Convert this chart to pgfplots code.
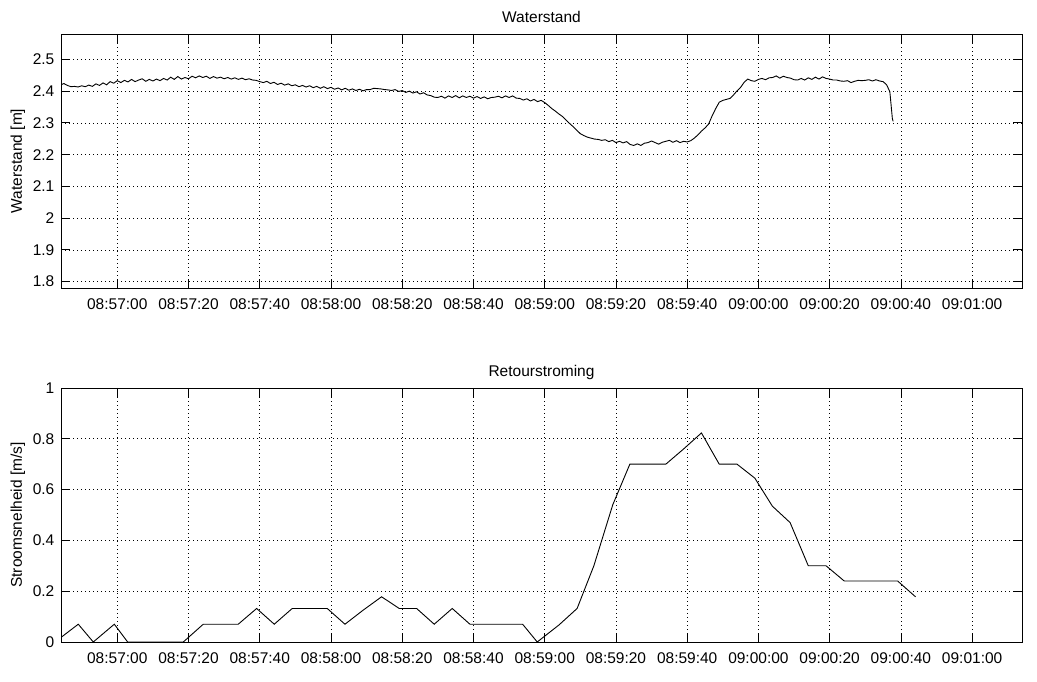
\documentclass[border=0pt]{standalone}
\usepackage{fontspec}
\setmainfont{Liberation Sans}
\usepackage{pgfplots}
\pgfplotsset{compat=1.18}

% MATLAB-like look shared by both panels
\pgfplotsset{
  matlab/.style={
    scale only axis,
    width=961pt, height=254pt,
    anchor=south west,
    xmin=-15.8, xmax=254,
    xtick={0,20,40,60,80,100,120,140,160,180,200,220,240},
    xticklabels={08:57:00,08:57:20,08:57:40,08:58:00,08:58:20,08:58:40,08:59:00,08:59:20,08:59:40,09:00:00,09:00:20,09:00:40,09:01:00},
    xtick pos=both, ytick pos=both,
    tick align=inside,
    major tick length=9pt,
    grid=major,
    major grid style={black, line width=0.7pt, dash pattern=on 0.7pt off 3.3pt},
    axis line style={black, line width=0.8pt},
    every tick/.style={black, line width=0.8pt},
    /pgf/number format/assume math mode=true,
    xticklabel style={inner sep=0pt, yshift=-10pt},
    yticklabel style={inner sep=0pt, xshift=-6.5pt},
    title style={at={(0.5,1)}, anchor=base, yshift=5pt, inner sep=0pt},
    ylabel style={at={(axis description cs:-0.0406,0.5)}, anchor=base, inner sep=0pt},
  }
}

\begin{document}
\begin{tikzpicture}[font=\fontsize{15.5}{18}\selectfont]
\path[use as bounding box] (0,0) rectangle (1037pt,682pt);

% top panel
\begin{axis}[matlab, at={(61pt,394pt)},
  ymin=1.78, ymax=2.58,
  ytick={1.8,1.9,2,2.1,2.2,2.3,2.4,2.5},
  title={Waterstand}, ylabel={Waterstand [m]}]
\addplot[black, line width=0.9pt] coordinates {
(-15.8,2.420) (-15,2.424) (-14,2.418) (-13,2.414) (-12,2.415) (-11,2.413) (-10,2.417) (-9,2.414)
(-8,2.419) (-7,2.415) (-6,2.423) (-5,2.418) (-4,2.426) (-3,2.420) (-2,2.430) (-1,2.425)
(0,2.433) (1,2.427) (2,2.434) (3,2.429) (4,2.437) (5,2.430) (6,2.435) (7,2.439)
(8,2.431) (9,2.437) (10,2.432) (11,2.438) (12,2.433) (13,2.440) (14,2.435) (15,2.444)
(16,2.437) (17,2.446) (18,2.438) (19,2.443) (20,2.439) (21,2.447) (22,2.442) (23,2.448)
(24,2.443) (25,2.447) (26,2.440) (27,2.446) (28,2.441) (29,2.444) (30,2.439) (31,2.443)
(32,2.438) (33,2.442) (34,2.437) (35,2.441) (36,2.436) (37,2.439) (38,2.435) (39,2.434)
(40,2.430) (41,2.427) (42,2.431) (43,2.424) (44,2.428) (45,2.421) (46,2.425) (47,2.419)
(48,2.423) (49,2.417) (50,2.420) (51,2.414) (52,2.418) (53,2.413) (54,2.417) (55,2.411)
(56,2.415) (57,2.409) (58,2.414) (59,2.408) (60,2.412) (61,2.406) (62,2.410) (63,2.404)
(64,2.409) (65,2.403) (66,2.407) (67,2.402) (68,2.406) (69,2.401) (70,2.405) (71,2.405)
(72,2.409) (73,2.408) (74,2.407) (75,2.405) (76,2.404) (77,2.402) (78,2.405) (79,2.399)
(80,2.402) (81,2.396) (82,2.400) (83,2.394) (84,2.398) (85,2.391) (86,2.395) (87,2.388)
(88,2.386) (89,2.381) (90,2.380) (91,2.384) (92,2.378) (93,2.385) (94,2.380) (95,2.386)
(96,2.379) (97,2.385) (98,2.380) (99,2.384) (100,2.378) (101,2.383) (102,2.377) (103,2.382)
(104,2.376) (105,2.380) (106,2.381) (107,2.384) (108,2.379) (109,2.385) (110,2.380) (111,2.385)
(112,2.378) (113,2.377) (114,2.372) (115,2.376) (116,2.369) (117,2.374) (118,2.367) (119,2.371)
(120,2.364) (121,2.355) (122,2.345) (123,2.337) (124,2.328) (125,2.320) (126,2.309) (127,2.298)
(128,2.288) (129,2.277) (130,2.266) (131,2.260) (132,2.255) (133,2.252) (134,2.249) (135,2.248)
(136,2.245) (137,2.247) (138,2.241) (139,2.245) (140,2.238) (141,2.242) (142,2.237) (143,2.241)
(144,2.232) (145,2.229) (146,2.234) (147,2.229) (148,2.236) (149,2.238) (150,2.243) (151,2.238)
(152,2.233) (153,2.239) (154,2.242) (155,2.245) (156,2.239) (157,2.244) (158,2.238) (159,2.242)
(160,2.240) (161,2.244) (162,2.252) (163,2.262) (164,2.274) (165,2.284) (166,2.296) (167,2.322)
(168,2.345) (169,2.365) (170,2.371) (171,2.374) (172,2.377) (173,2.388) (174,2.401) (175,2.412)
(176,2.428) (177,2.438) (178,2.433) (179,2.431) (180,2.437) (181,2.440) (182,2.436) (183,2.442)
(184,2.443) (185,2.448) (186,2.441) (187,2.447) (188,2.443) (189,2.441) (190,2.436) (191,2.435)
(192,2.440) (193,2.435) (194,2.442) (195,2.437) (196,2.444) (197,2.438) (198,2.445) (199,2.440)
(200,2.438) (201,2.435) (202,2.435) (203,2.432) (204,2.431) (205,2.433) (206,2.427) (207,2.431)
(208,2.434) (209,2.433) (210,2.434) (211,2.436) (212,2.432) (213,2.436) (214,2.432) (215,2.430)
(216,2.420) (216.9,2.398) (217.6,2.314) (217.8,2.305)
};
\end{axis}

% bottom panel
\begin{axis}[matlab, at={(61pt,40pt)},
  ymin=0, ymax=1,
  ytick={0,0.2,0.4,0.6,0.8,1},
  title={Retourstroming}, ylabel={Stroomsnelheid [m/s]}]
\addplot[black, line width=0.9pt] coordinates {
(-15.8,0.018) (-10.95,0.07) (-6.74,0) (-0.84,0.07) (2.92,0) (18.53,0) (24.14,0.07)
(33.96,0.07) (39.13,0.132) (44.07,0.07) (49.12,0.132) (58.95,0.132) (63.92,0.07)
(69,0.125) (74.2,0.178) (79.16,0.132) (84.04,0.132) (88.98,0.07) (94.04,0.132)
(99.0,0.07) (113.8,0.07) (117.9,0) (124,0.067) (129.1,0.132) (133.8,0.30)
(139.1,0.54) (143.9,0.70) (154.0,0.70) (159,0.76) (164.0,0.823) (169.0,0.70)
(174.0,0.70) (179.0,0.645) (183.9,0.535) (188.9,0.47) (194.0,0.30) (199.0,0.30)
(204.1,0.24) (219.1,0.24) (224.1,0.178)
};
\end{axis}
\end{tikzpicture}
\end{document}
